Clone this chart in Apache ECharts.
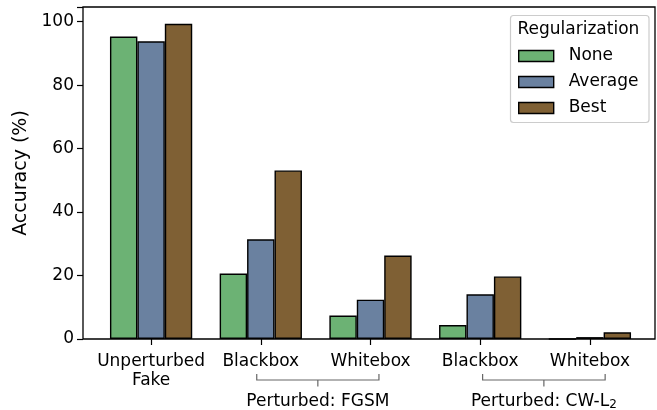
<!DOCTYPE html>
<html>
<head>
<meta charset="utf-8">
<script src="https://cdn.jsdelivr.net/npm/echarts@6/dist/echarts.min.js"></script>
<style>
  html, body { margin: 0; padding: 0; background: #fff; }
  #chart { width: 657px; height: 410px; }
</style>
</head>
<body>
<div id="chart"></div>
<script>
// Attack scenarios on the x axis
const categories = ['Unperturbed\nFake', 'Blackbox', 'Whitebox', 'Blackbox', 'Whitebox'];

// Accuracy (%) per regularization setting
const seriesNames = ['None', 'Average', 'Best'];
const noneValues = [95.3, 20.6, 7.4, 4.4, 0.0];
const averageValues = [93.8, 31.4, 12.4, 14.1, 0.6];
const bestValues = [99.3, 53.1, 26.3, 19.7, 2.1];

// Y axis ticks
const yTicks = [0, 20, 40, 60, 80, 100];
const yMax = 104.6;

// Grouping brackets under the axis: span in category units and label
const groupLabels = ['Perturbed: FGSM', 'Perturbed: CW-L{sub|2}'];
const groupSpans = [[0.963, 2.077], [3.022, 4.139]];

const colors = ['#6cb274', '#6a81a0', '#7f6034'];
const FONT = 'DejaVu Sans';

const chart = echarts.init(document.getElementById('chart'), null, { renderer: 'canvas' });

const valuesList = [noneValues, averageValues, bestValues];

const option = {
  animation: false,
  backgroundColor: '#fff',
  textStyle: { fontFamily: FONT },
  grid: [
    // frame grid carrying the value axis and the box
    { left: 83, right: 2, top: 7, bottom: 71, show: true, borderColor: '#000', borderWidth: 1.3, backgroundColor: 'transparent', containLabel: false },
    // bar grid, inset to give the category margins
    { left: 96.25, right: 12.25, top: 7, bottom: 71, containLabel: false }
  ],
  xAxis: [
    { gridIndex: 0, type: 'value', min: 0, max: 1, show: false },
    {
      gridIndex: 1, type: 'category', data: categories,
      axisLine: { show: false },
      axisTick: { show: true, alignWithLabel: true, length: 6, lineStyle: { color: '#000', width: 1.2 } },
      axisLabel: { color: '#000', fontSize: 17, fontFamily: FONT, margin: 13, lineHeight: 19, interval: 0 }
    }
  ],
  yAxis: [
    {
      gridIndex: 0, type: 'value', min: yTicks[0], max: yMax, interval: yTicks[1] - yTicks[0],
      name: 'Accuracy (%)', nameLocation: 'middle', nameGap: 52,
      nameTextStyle: { color: '#000', fontSize: 19, fontFamily: FONT },
      axisLine: { show: false },
      axisTick: { show: true, length: 6, lineStyle: { color: '#000', width: 1.2 } },
      axisLabel: {
        color: '#000', fontSize: 17, fontFamily: FONT, margin: 9,
        formatter: v => (yTicks.indexOf(v) >= 0 ? String(v) : '')
      },
      splitLine: { show: false }
    },
    { gridIndex: 1, type: 'value', min: yTicks[0], max: yMax, show: false, splitLine: { show: false } }
  ],
  legend: {
    orient: 'vertical',
    left: 518, top: 46,
    padding: 0,
    z: 10,
    itemWidth: 35, itemHeight: 11, itemGap: 6,
    icon: 'rect',
    itemStyle: { borderColor: '#000', borderWidth: 1.4 },
    textStyle: { color: '#000', fontSize: 17, fontFamily: FONT, lineHeight: 20, padding: [0, 0, 0, 10] },
    data: seriesNames
  },
  series: seriesNames.map((name, i) => ({
    name: name,
    type: 'bar',
    xAxisIndex: 1, yAxisIndex: 1,
    data: valuesList[i],
    barGap: '0%',
    barCategoryGap: '25%',
    itemStyle: { color: colors[i], borderColor: '#000', borderWidth: 1.4 }
  }))
};

chart.setOption(option);

// Legend frame and title, brackets and group labels under the axis
function drawAnnotations() {
  const p0 = chart.convertToPixel({ xAxisIndex: 1 }, 0);
  const p1 = chart.convertToPixel({ xAxisIndex: 1 }, 1);
  const step = p1 - p0;
  const toPx = u => p0 + u * step;
  const yEnd = 374, yBar = 380, yTip = 386.5, yText = 401.5;

  const elements = [
    {
      type: 'rect', z: 1,
      shape: { x: 510.5, y: 15.5, width: 138.5, height: 107, r: 3 },
      style: { fill: 'rgba(255,255,255,0.8)', stroke: '#cccccc', lineWidth: 1.2 }
    },
    {
      type: 'text', z: 11,
      style: { x: 517.5, y: 29.5, text: 'Regularization', fill: '#000', fontSize: 17, fontFamily: FONT, verticalAlign: 'middle', align: 'left' }
    }
  ];

  groupSpans.forEach((span, i) => {
    const a = toPx(span[0]);
    const b = toPx(span[1]);
    const m = (a + b) / 2;
    elements.push({
      type: 'polyline',
      shape: { points: [[a, yEnd], [a, yBar], [b, yBar], [b, yEnd]] },
      style: { stroke: '#666', lineWidth: 1.2, fill: null }
    });
    elements.push({
      type: 'line',
      shape: { x1: m, y1: yBar, x2: m, y2: yTip },
      style: { stroke: '#666', lineWidth: 1.2 }
    });
    elements.push({
      type: 'text',
      style: {
        x: m, y: yText, text: groupLabels[i], fill: '#000', fontSize: 17, fontFamily: FONT,
        align: 'center', verticalAlign: 'middle',
        rich: { sub: { fontSize: 12, fontFamily: FONT, verticalAlign: 'bottom', padding: [7, 0, 0, 0] } }
      }
    });
  });

  chart.setOption({ graphic: { elements: elements } });
}
drawAnnotations();
</script>
</body>
</html>
